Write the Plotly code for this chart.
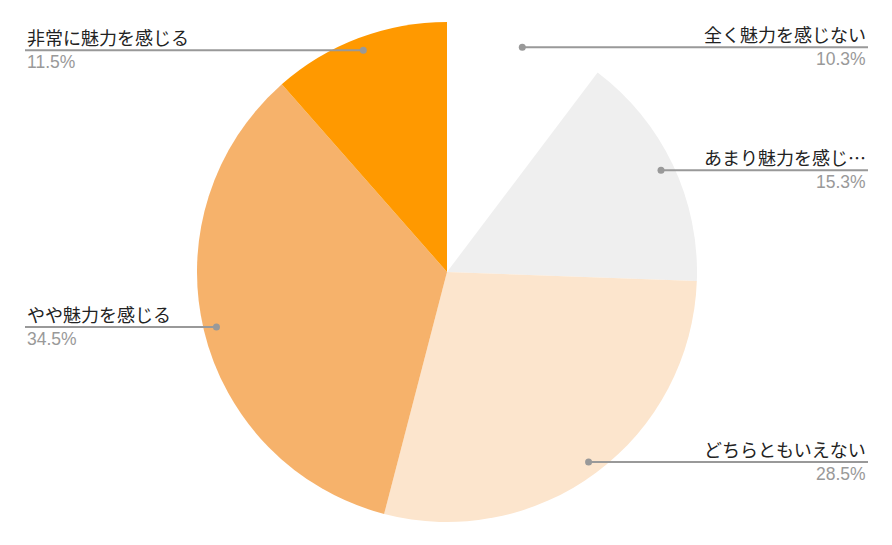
import math
import plotly.graph_objects as go

labels = ["全く魅力を感じない", "あまり魅力を感じ…", "どちらともいえない", "やや魅力を感じる", "非常に魅力を感じる"]
values = [10.3, 15.3, 28.5, 34.5, 11.5]
pct_text = ["10.3%", "15.3%", "28.5%", "34.5%", "11.5%"]
colors = ["#ffffff", "#efefef", "#fce5cd", "#f6b26b", "#ff9900"]

W, H = 892, 545
OFF = 8  # page body margin
CX, CY, R = 447, 272, 250

def px(x):
    return (x - OFF) / W

def py(y):
    return 1 - (y - OFF) / H

fig = go.Figure(go.Pie(
    labels=labels, values=values, sort=False, direction="clockwise", rotation=0,
    marker=dict(colors=colors, line=dict(width=0)),
    textinfo="none", hoverinfo="label+percent",
    domain=dict(x=[px(CX - R), px(CX + R)], y=[py(CY + R), py(CY - R)]),
    showlegend=False,
))

total = sum(values)
annotations = []
shapes = []
cum = 0.0
name_font = dict(family="Noto Sans CJK JP, Liberation Sans", size=18, color="#222222")
pct_font = dict(family="Liberation Sans, Arial", size=17.5, color="#999999")
for lab, v, t in zip(labels, values, pct_text):
    mid = (cum + v / 2) / total * 2 * math.pi
    cum += v
    dx = CX + 0.948 * R * math.sin(mid)
    dy = CY - 0.948 * R * math.cos(mid)
    right = math.sin(mid) > 0
    end = 868 if right else 25
    shapes.append(dict(type="line", xref="paper", yref="paper",
                       x0=px(dx), x1=px(end), y0=py(dy), y1=py(dy),
                       line=dict(color="#999999", width=2)))
    shapes.append(dict(type="circle", xref="paper", yref="paper",
                       x0=px(dx - 3.5), x1=px(dx + 3.5), y0=py(dy + 3.5), y1=py(dy - 3.5),
                       fillcolor="#999999", line=dict(width=0)))
    anchor = "right" if right else "left"
    annotations.append(dict(text=lab, xref="paper", yref="paper", x=px(end), y=py(dy - 13),
                            xanchor=anchor, yanchor="middle", showarrow=False, font=name_font))
    annotations.append(dict(text=t, xref="paper", yref="paper", x=px(end), y=py(dy + 12),
                            xanchor=anchor, yanchor="middle", showarrow=False, font=pct_font))

fig.update_layout(
    width=W, height=H, margin=dict(l=0, r=0, t=0, b=0),
    paper_bgcolor="#ffffff", plot_bgcolor="#ffffff",
    annotations=annotations, shapes=shapes,
)
fig.write_html("out.html")
